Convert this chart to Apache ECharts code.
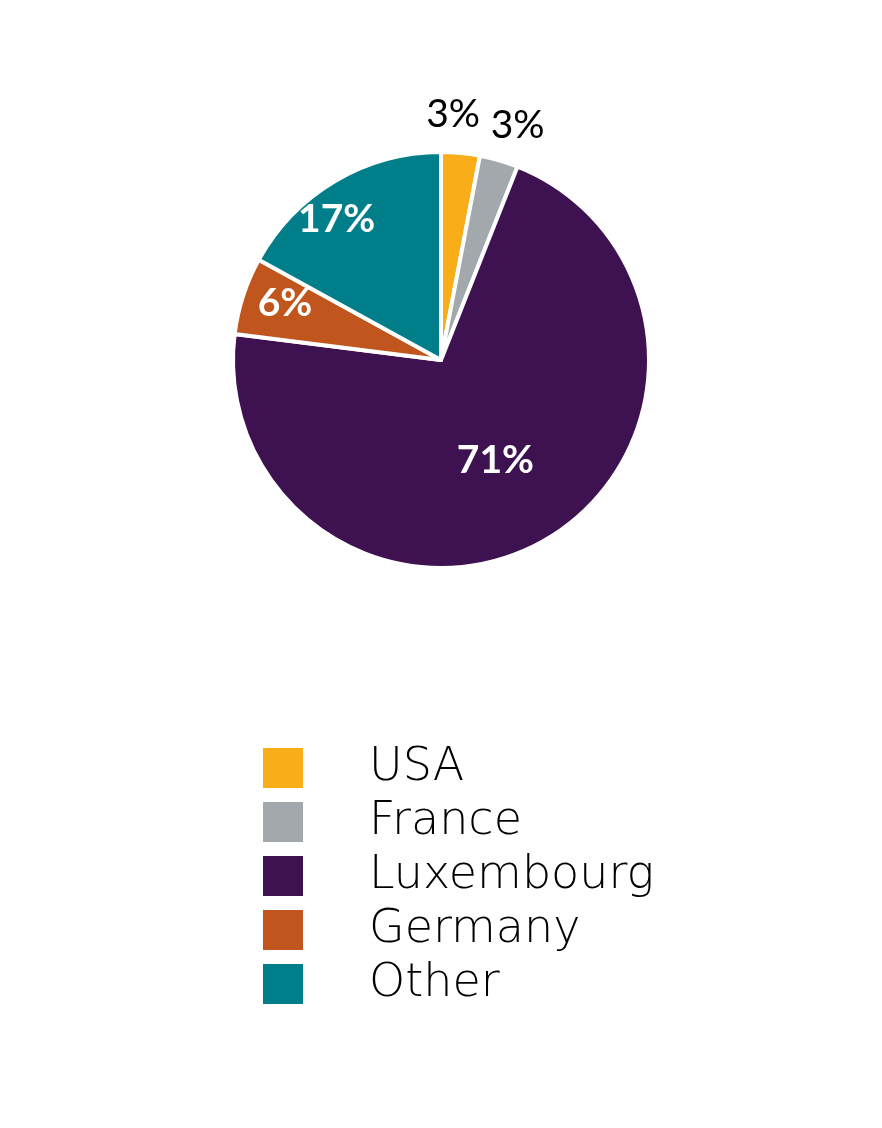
<!DOCTYPE html>
<html><head><meta charset="utf-8">
<script src="https://cdn.jsdelivr.net/npm/echarts@6/dist/echarts.min.js"></script>
<style>html,body{margin:0;padding:0;background:#fff}#c{width:882px;height:1128px}</style>
</head><body><div id="c"></div>
<script>
const categories = ['USA', 'France', 'Luxembourg', 'Germany', 'Other'];
const values = [3, 3, 71, 6, 17];
const colors = ['#F9AE19', '#A2A8AB', '#3E1151', '#C0561D', '#007F8A'];

const center = [441, 360];
const R = 208;
const outsideSet = ['USA', 'France'];
const innerSet = ['Luxembourg'];
const rimSet = ['Germany', 'Other'];
// small label nudges (px) by category, applied through labelLayout
const nudge = { USA: [-11, -1], France: [8, 2], Luxembourg: [0, 8], Germany: [9, -3], Other: [-16, 9] };

function mk(set) {
  return categories.map((n, i) => ({
    name: n, value: values[i],
    label: { show: set.indexOf(n) >= 0 }
  }));
}
function lay(params) {
  const n = categories[params.dataIndex];
  const d = nudge[n] || [0, 0];
  return { dx: d[0], dy: d[1], hideOverlap: false, moveOverlap: false };
}
const labelFont = { fontFamily: 'Lato, "Noto Sans", sans-serif', fontSize: 39 };

const chart = echarts.init(document.getElementById('c'));
chart.setOption({
  backgroundColor: '#fff',
  color: colors,
  animation: false,
  legend: {
    orient: 'vertical', left: 261, top: 743, padding: 0,
    icon: 'rect', itemWidth: 42, itemHeight: 42, itemGap: 4,
    selectedMode: false,
    data: categories.map((n, i) => ({ name: n, itemStyle: { color: colors[i] } })),
    textStyle: { fontFamily: '"DejaVu Sans", sans-serif', fontWeight: 200, fontSize: 46, lineHeight: 42, color: '#000', padding: [0, 0, 8, 60] }
  },
  series: [
    {
      type: 'pie', center: center, radius: [0, R], startAngle: 90, clockwise: true,
      silent: true, avoidLabelOverlap: false,
      itemStyle: { borderColor: '#fff', borderWidth: 4 },
      label: Object.assign({ position: 'inside', formatter: '{d}%', color: '#fff', fontWeight: 'bold' }, labelFont),
      labelLine: { show: false },
      labelLayout: lay,
      data: mk(innerSet)
    },
    {
      type: 'pie', center: center, radius: [R * 0.62, R * 1.02], startAngle: 90, clockwise: true,
      silent: true, avoidLabelOverlap: false,
      itemStyle: { color: 'rgba(0,0,0,0)' },
      label: Object.assign({ position: 'inside', formatter: '{d}%', color: '#fff', fontWeight: 'bold' }, labelFont),
      labelLine: { show: false },
      labelLayout: lay,
      data: mk(rimSet)
    },
    {
      type: 'pie', center: center, radius: [R, R + 70], startAngle: 90, clockwise: true,
      silent: true, avoidLabelOverlap: false,
      itemStyle: { color: 'rgba(0,0,0,0)' },
      label: Object.assign({ position: 'inside', formatter: '{d}%', color: '#000', fontWeight: 'normal' }, labelFont),
      labelLine: { show: false },
      labelLayout: lay,
      data: mk(outsideSet)
    }
  ]
});
</script></body></html>
